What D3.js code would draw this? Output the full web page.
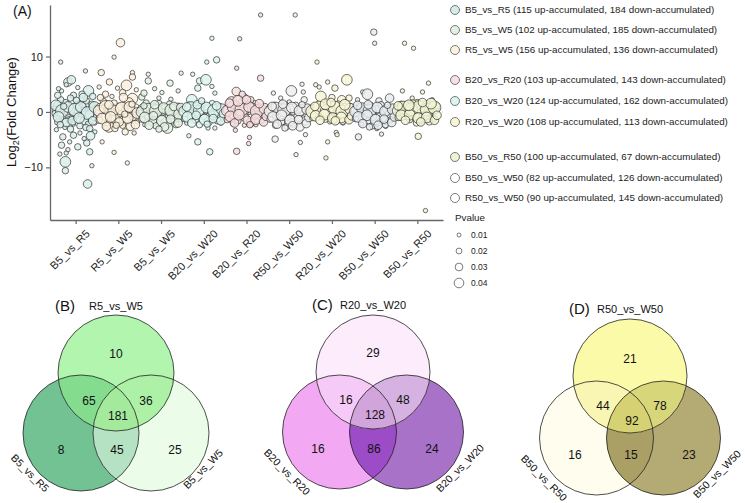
<!DOCTYPE html>
<html>
<head>
<meta charset="utf-8">
<script src="https://cdn.jsdelivr.net/npm/d3@7"></script>
<style>
  body { margin: 0; background: #fff; }
  svg { font-family: Arial, "Liberation Sans", sans-serif; }
</style>
</head>
<body>
<svg id="chart" width="745" height="503"></svg>
<script>
// comparison order on the x axis
var comparisons = ["B5_vs_R5", "R5_vs_W5", "B5_vs_W5", "B20_vs_W20", "B20_vs_R20",
                   "R50_vs_W50", "R20_vs_W20", "B50_vs_W50", "B50_vs_R50"];
var compColors = ["#d9eeea", "#fbf0dc", "#e3f1e3", "#dcf4ef", "#f7dede",
                  "#eeeeee", "#f7f6d6", "#e6ecee", "#f1f4d3"];
var yTicks = [-10, 0, 10];

// each point: [jitter within the column, log2 fold change, pvalue]
var ptsB5R5 = [[-0.35,9.0,0.01],[0.23,7.4,0.01],[-0.18,5.4,0.03],[-0.1,5.8,0.03],[-0.22,4.9,0.01],[0.3,3.8,0.04],[-0.33,3.8,0.01],[0.05,4.4,0.01],[-0.4,4.2,0.01],[0.15,3.2,0.02],[-0.05,3.0,0.02],[0.4,2.8,0.02],
  [-0.38,0.9,0.05],[0.26,0.7,0.05],[-0.45,0.3,0.03],[-0.25,1.5,0.03],[-0.1,0.5,0.04],[0.05,1.2,0.03],[0.15,-0.2,0.03],[0.38,0.4,0.03],[-0.3,-0.8,0.02],[-0.15,-1.4,0.02],[0.0,-0.6,0.02],[0.2,-1.6,0.03],[0.42,-1.0,0.02],[-0.42,-1.8,0.02],[-0.05,-2.2,0.01],[0.1,-2.5,0.02],[0.3,-2.2,0.02],[-0.25,-2.8,0.01],[0.45,-2.0,0.01],[-0.35,2.2,0.02],[0.25,2.0,0.02],[0.1,1.8,0.01],[-0.2,0.0,0.02],[0.32,-0.5,0.03],[-0.48,-0.3,0.02],[0.05,0.1,0.02],[-0.1,-1.0,0.01],[0.22,0.6,0.01],[-0.28,0.4,0.01],[0.38,1.4,0.02],[-0.12,2.5,0.02],
  [-0.46,1.2,0.04],[-0.32,0.2,0.05],[-0.18,0.9,0.04],[-0.02,0.4,0.05],[0.12,0.9,0.04],[0.28,-0.2,0.05],[0.44,0.9,0.04],[-0.4,-0.9,0.04],[-0.22,-1.9,0.03],[-0.08,-1.6,0.03],[0.08,-1.1,0.04],[0.24,-2.8,0.02],[0.4,-1.6,0.03],[-0.36,-2.3,0.02],[0.18,2.6,0.03],[-0.42,3.0,0.02],[0.33,-3.0,0.02],[-0.12,-3.1,0.02],[0.02,2.1,0.02],[-0.28,1.0,0.02],
  [-0.3,-4.5,0.02],[-0.33,-6.0,0.02],[-0.14,-5.4,0.01],[0.05,-6.3,0.02],[0.26,-5.6,0.02],[0.33,-7.2,0.02],[-0.37,-7.6,0.01],[-0.22,-7.4,0.01],[-0.24,-9.0,0.04],[-0.24,-10.6,0.02],[0.38,-9.7,0.01],[0.28,-13.0,0.03],[0.1,-3.8,0.01],[-0.05,-4.2,0.02],[0.2,-4.8,0.01],[0.45,-3.6,0.01],[-0.45,-3.2,0.01],[0.35,-4.3,0.03],[-0.18,-6.8,0.01]];
var ptsR5W5 = [[-0.4,7.1,0.02],[0.05,12.5,0.03],[-0.1,9.9,0.01],[-0.21,5.4,0.02],[0.19,4.8,0.04],[0.33,7.1,0.01],[0.33,6.3,0.02],[-0.02,4.3,0.01],[0.33,2.4,0.04],[-0.22,-2.7,0.04],[0.16,-3.6,0.02],[0.37,-3.8,0.01],[-0.38,-5.4,0.01],[-0.1,-7.3,0.01],[0.21,-9.2,0.01],[-0.3,3.2,0.02],[0.1,3.5,0.02],[-0.15,2.8,0.01],[0.42,4.0,0.01],[-0.45,4.5,0.01],
  [-0.42,0.6,0.04],[-0.2,0.2,0.03],[0.0,0.8,0.03],[0.2,0.3,0.04],[0.4,0.7,0.03],[-0.3,-0.8,0.03],[-0.05,-1.2,0.04],[0.15,-1.5,0.04],[0.35,-1.0,0.02],[-0.45,-1.5,0.02],[-0.1,1.6,0.02],[0.25,1.8,0.03],[-0.35,1.9,0.02],[0.05,-0.3,0.02],[0.3,-0.4,0.01],[-0.25,-2.0,0.02],[0.1,-2.4,0.02],[0.45,-1.8,0.01],[-0.15,0.0,0.01],[0.15,1.0,0.01],[-0.48,0.0,0.01],[0.48,0.2,0.01],[0.28,-2.6,0.03],[-0.08,-3.0,0.02],[-0.35,0.9,0.01],
  [-0.46,0.2,0.04],[-0.3,0.9,0.05],[-0.12,0.3,0.04],[0.08,0.6,0.05],[0.26,0.9,0.04],[0.44,-0.2,0.04],[-0.38,-1.2,0.04],[-0.18,-0.9,0.04],[0.02,-1.8,0.03],[0.22,-1.1,0.04],[0.4,-2.3,0.03],[-0.28,-2.6,0.03],[0.12,2.6,0.03],[-0.22,1.3,0.03],[0.32,1.4,0.02],[-0.05,-2.4,0.02],[0.15,-0.4,0.02],[-0.42,2.6,0.02]];
var ptsB5W5 = [[-0.3,6.8,0.01],[-0.3,5.6,0.02],[0.21,5.2,0.02],[0.02,3.5,0.01],[0.23,2.3,0.01],[-0.05,2.5,0.01],[-0.45,2.7,0.02],[0.47,7.0,0.01],[-0.4,3.4,0.02],[0.4,3.8,0.01],[-0.15,4.2,0.01],
  [-0.42,0.5,0.04],[-0.15,0.8,0.03],[0.1,0.4,0.04],[0.38,0.6,0.04],[-0.3,-0.6,0.03],[0.0,-0.9,0.03],[0.25,-0.5,0.03],[0.45,-1.2,0.02],[-0.45,-1.3,0.02],[-0.2,-1.8,0.03],[0.12,-2.0,0.04],[0.35,-2.3,0.02],[-0.05,1.5,0.02],[0.2,1.4,0.02],[-0.35,1.6,0.02],[0.05,0.0,0.02],[-0.25,0.1,0.01],[0.3,-0.1,0.01],[-0.1,-0.4,0.01],[0.48,0.1,0.02],[-0.48,0.0,0.01],[0.15,-2.9,0.04],[-0.12,-2.5,0.02],[-0.38,-2.3,0.01],[0.4,1.2,0.01],
  [-0.46,0.0,0.04],[-0.3,0.6,0.04],[-0.12,0.2,0.05],[0.06,0.7,0.04],[0.24,0.3,0.05],[0.42,-0.4,0.04],[-0.38,-1.0,0.04],[-0.18,-0.7,0.03],[0.02,-1.6,0.04],[0.22,-1.3,0.03],[0.4,-2.0,0.03],[-0.28,-2.4,0.03],[0.08,-2.7,0.03],[-0.15,1.3,0.03],[0.3,1.0,0.03],[-0.4,1.1,0.02],[0.46,0.8,0.03],[-0.05,-3.1,0.02]];
var ptsB20W20 = [[-0.26,6.8,0.01],[0.19,13.3,0.01],[0.07,9.0,0.01],[0.3,9.4,0.02],[-0.1,5.6,0.02],[0.05,5.8,0.04],[-0.14,4.3,0.02],[0.26,3.4,0.01],[0.19,4.6,0.01],[-0.28,2.2,0.04],[-0.35,-4.3,0.01],[-0.14,-5.4,0.02],[0.14,-7.2,0.02],[0.1,-2.9,0.01],[0.26,-2.9,0.01],
  [-0.42,0.5,0.03],[-0.15,0.8,0.04],[0.1,0.5,0.03],[0.35,0.6,0.04],[-0.3,-0.5,0.03],[0.0,-0.8,0.02],[0.22,-0.6,0.03],[0.45,-0.9,0.02],[-0.45,-1.2,0.02],[-0.2,-1.5,0.02],[0.1,-1.8,0.03],[0.32,-1.6,0.02],[-0.05,1.4,0.02],[0.2,1.5,0.02],[-0.35,1.2,0.02],[0.05,0.0,0.01],[-0.25,0.1,0.01],[0.3,-0.1,0.01],[0.48,0.2,0.02],[-0.1,-2.3,0.02],[0.4,-2.0,0.01],[-0.4,-2.0,0.01],
  [-0.46,0.1,0.04],[-0.3,0.7,0.05],[-0.12,0.2,0.04],[0.06,0.8,0.04],[0.24,0.2,0.05],[0.42,0.5,0.04],[-0.38,-0.9,0.04],[-0.18,-0.6,0.03],[0.02,-1.4,0.04],[0.22,-1.2,0.03],[0.4,-1.6,0.03],[-0.28,-2.0,0.03],[0.08,-2.2,0.02],[-0.15,1.3,0.03],[0.3,1.1,0.03],[-0.4,0.9,0.03],[0.46,-0.3,0.03],[-0.05,2.0,0.02]];
var ptsB20R20 = [[-0.16,13.2,0.01],[0.33,17.5,0.01],[-0.23,7.9,0.01],[0.33,6.1,0.02],[-0.24,3.7,0.03],[-0.35,1.8,0.04],[-0.05,2.5,0.03],[0.19,1.3,0.03],[-0.26,-3.3,0.01],[0.07,-4.6,0.01],[0.05,-5.7,0.01],[-0.23,-7.1,0.02],[-0.1,3.2,0.02],[0.1,2.2,0.02],
  [-0.42,0.4,0.04],[-0.18,0.7,0.04],[0.05,0.3,0.03],[0.3,0.5,0.04],[0.45,-0.3,0.02],[-0.3,-0.6,0.03],[-0.05,-0.9,0.03],[0.2,-0.8,0.02],[-0.45,-1.4,0.02],[-0.2,-1.6,0.02],[0.1,-1.9,0.03],[0.35,-1.5,0.02],[-0.1,1.6,0.03],[0.15,1.0,0.02],[-0.35,1.1,0.02],[0.0,0.0,0.01],[-0.25,-0.1,0.01],[0.25,-0.2,0.01],[0.4,0.9,0.01],[-0.05,-2.4,0.01],[0.22,-2.3,0.01],[-0.32,-2.2,0.01],
  [-0.46,0.2,0.04],[-0.3,0.9,0.05],[-0.12,0.4,0.05],[0.06,0.9,0.04],[0.24,0.1,0.05],[0.42,0.6,0.04],[-0.38,-0.8,0.04],[-0.18,-0.5,0.04],[0.02,-1.5,0.03],[0.22,-1.3,0.04],[0.4,-1.8,0.03],[-0.28,-2.0,0.03],[0.08,-2.3,0.02],[-0.2,2.0,0.04],[0.3,1.5,0.03],[-0.4,1.6,0.03],[0.46,-0.8,0.03],[0.0,2.2,0.03]];
var ptsR50W50 = [[0.14,17.5,0.01],[0.05,3.8,0.04],[0.3,5.0,0.01],[0.33,3.6,0.01],[-0.37,3.4,0.01],[0.0,1.8,0.01],[-0.33,-4.9,0.02],[0.26,-5.5,0.01],[0.16,-7.7,0.01],[0.38,-4.1,0.01],[0.35,2.2,0.02],[-0.2,2.5,0.01],
  [-0.42,0.5,0.04],[-0.2,0.8,0.03],[0.05,0.4,0.04],[0.28,0.6,0.03],[0.45,0.0,0.02],[-0.3,-0.5,0.03],[-0.05,-0.8,0.03],[0.2,-1.0,0.03],[-0.45,-1.3,0.02],[-0.18,-1.8,0.02],[0.1,-2.0,0.03],[0.38,-1.6,0.03],[-0.1,1.3,0.02],[0.15,1.2,0.02],[-0.35,1.2,0.02],[0.0,0.0,0.01],[-0.25,-0.1,0.01],[0.3,-0.3,0.01],[0.42,1.0,0.01],[-0.05,-2.6,0.02],[0.25,-2.7,0.03],[-0.32,-2.4,0.02],
  [-0.46,0.1,0.04],[-0.3,0.8,0.04],[-0.12,0.3,0.05],[0.06,0.8,0.04],[0.24,0.2,0.04],[0.42,0.5,0.04],[-0.38,-0.9,0.04],[-0.18,-0.6,0.04],[0.02,-1.5,0.04],[0.22,-1.4,0.03],[0.4,-2.1,0.03],[-0.28,-2.2,0.03],[0.08,-2.5,0.03],[-0.15,1.4,0.03],[0.3,1.3,0.02],[-0.4,1.0,0.03],[0.46,-1.0,0.03],[-0.1,-2.9,0.02]];
var ptsR20W20 = [[-0.35,9.0,0.01],[-0.38,4.9,0.01],[-0.3,4.5,0.01],[-0.1,5.4,0.01],[0.07,4.3,0.02],[0.35,5.8,0.04],[-0.26,2.8,0.04],[0.23,2.2,0.03],[0.1,-3.7,0.01],[0.12,-4.1,0.01],[-0.1,-5.4,0.01],[-0.14,-8.3,0.01],[0.26,-2.0,0.01],[0.0,2.6,0.02],[0.4,2.5,0.02],
  [-0.42,0.4,0.04],[-0.2,0.7,0.04],[0.05,0.3,0.04],[0.28,0.6,0.04],[0.45,0.1,0.03],[-0.3,-0.5,0.03],[-0.05,-0.7,0.03],[0.2,-0.6,0.03],[-0.45,-1.0,0.02],[-0.15,-1.3,0.02],[0.1,-1.4,0.03],[0.38,-1.2,0.02],[-0.1,1.3,0.03],[0.15,1.2,0.03],[-0.35,1.1,0.02],[0.0,0.0,0.02],[-0.25,-0.1,0.01],[0.3,-0.2,0.01],[0.42,1.0,0.02],[-0.05,-1.8,0.01],[0.25,-1.7,0.02],
  [-0.46,0.1,0.05],[-0.3,0.8,0.05],[-0.12,0.2,0.05],[0.06,0.8,0.05],[0.24,0.1,0.05],[0.42,0.6,0.04],[-0.38,-0.7,0.04],[-0.18,-0.5,0.04],[0.02,-1.1,0.04],[0.22,-1.0,0.04],[0.4,-1.4,0.03],[-0.28,-1.5,0.03],[0.08,-1.6,0.03],[-0.15,1.4,0.04],[0.3,1.3,0.04],[-0.4,1.0,0.03],[0.46,-0.7,0.03],[-0.02,1.7,0.03]];
var ptsB50W50 = [[-0.02,14.4,0.02],[0.0,12.4,0.01],[-0.28,3.6,0.01],[-0.17,3.2,0.04],[0.35,2.5,0.03],[-0.38,-4.5,0.02],[0.05,-3.0,0.01],[0.16,-4.0,0.01],[0.26,-2.6,0.01],[0.1,2.0,0.02],[-0.4,2.2,0.01],
  [-0.42,0.3,0.04],[-0.2,0.6,0.03],[0.05,0.4,0.03],[0.28,0.6,0.03],[0.45,0.0,0.02],[-0.3,-0.6,0.04],[-0.05,-0.8,0.03],[0.2,-1.0,0.03],[-0.45,-1.2,0.02],[-0.15,-1.6,0.02],[0.1,-1.9,0.02],[0.38,-1.4,0.02],[-0.1,1.2,0.02],[0.15,1.3,0.02],[-0.35,1.0,0.02],[0.0,0.0,0.01],[-0.25,-0.1,0.01],[0.3,-0.2,0.01],[0.42,0.9,0.01],[-0.05,-2.5,0.02],[0.25,-2.3,0.02],[-0.3,-2.2,0.01],
  [-0.46,0.1,0.04],[-0.3,0.7,0.04],[-0.12,0.2,0.05],[0.06,0.8,0.04],[0.24,0.1,0.04],[0.42,0.5,0.04],[-0.38,-0.9,0.04],[-0.18,-0.6,0.04],[0.02,-1.4,0.04],[0.22,-1.3,0.03],[0.4,-1.9,0.03],[-0.28,-2.1,0.03],[0.08,-2.4,0.03],[-0.15,1.3,0.03],[0.3,1.2,0.02],[-0.4,1.2,0.03],[0.46,-0.9,0.03],[-0.12,-2.7,0.02]];
var ptsB50R50 = [[-0.3,12.4,0.01],[-0.09,11.5,0.01],[0.26,5.2,0.01],[-0.35,3.8,0.01],[0.12,3.6,0.01],[-0.12,2.5,0.01],[0.35,2.2,0.01],[0.02,-4.4,0.02],[0.19,-17.8,0.01],
  [-0.28,0.9,0.04],[0.0,1.3,0.04],[0.3,0.2,0.04],[-0.42,0.3,0.03],[-0.12,0.2,0.04],[0.15,0.6,0.03],[0.42,0.5,0.03],[-0.3,-0.6,0.03],[-0.05,-0.8,0.03],[0.2,-0.7,0.03],[-0.45,-1.0,0.02],[-0.18,-1.4,0.02],[0.1,-1.5,0.02],[0.38,-1.2,0.02],[-0.1,1.6,0.02],[0.22,1.5,0.02],[-0.38,1.4,0.02],[0.05,0.0,0.01],[-0.22,-0.1,0.01],[0.32,-0.3,0.01],[0.45,1.1,0.02],[-0.02,-2.0,0.02],[0.28,-1.8,0.02],
  [-0.46,0.2,0.04],[-0.32,0.8,0.05],[-0.14,0.5,0.05],[0.04,0.9,0.05],[0.22,0.4,0.05],[0.4,0.8,0.05],[-0.38,-0.6,0.04],[-0.18,-0.5,0.04],[0.02,-1.1,0.04],[0.22,-1.0,0.04],[0.4,-1.5,0.03],[-0.28,-1.5,0.03],[0.08,-1.8,0.03],[-0.2,1.2,0.04],[0.32,1.5,0.04],[-0.45,1.1,0.03],[0.46,-0.6,0.03],[0.12,1.7,0.03]];
var pointSets = [ptsB5R5, ptsR5W5, ptsB5W5, ptsB20W20, ptsB20R20, ptsR50W50, ptsR20W20, ptsB50W50, ptsB50R50];

// legend entries
var legendNames = ["B5_vs_R5", "B5_vs_W5", "R5_vs_W5", "B20_vs_R20", "B20_vs_W20", "R20_vs_W20",
                   "B50_vs_R50", "B50_vs_W50", "R50_vs_W50"];
var legendUp = [115, 102, 156, 103, 124, 108, 100, 82, 90];
var legendDown = [184, 185, 136, 143, 162, 113, 67, 126, 145];
var legendColors = ["#d6ece9", "#e5f0e5", "#fbf3dd", "#f7dfe3", "#dcf3f0", "#f9f5d8", "#eef3d6", "#ffffff", "#ffffff"];
var pLegend = [0.01, 0.02, 0.03, 0.04];

// venn diagrams: sets are [left, top, right]; counts are
// [left only, top only, right only, left&top, left&right, top&right, all]
var vennBSets = ["B5_vs_R5", "R5_vs_W5", "B5_vs_W5"];
var vennBCounts = [8, 10, 25, 65, 45, 36, 181];
var vennBColors = ["#72c293", "#b2f5ae", "#ebfce9", "#84dc8f", "#b6e2c4", "#acf1a6", "#a3ea9c"];
var vennCSets = ["B20_vs_R20", "R20_vs_W20", "B20_vs_W20"];
var vennCCounts = [16, 29, 24, 16, 86, 48, 128];
var vennCColors = ["#f2a8f2", "#fcecfc", "#a872c8", "#f6caf6", "#9c4cc6", "#d6b2e2", "#d1a4dc"];
var vennDSets = ["B50_vs_R50", "R50_vs_W50", "B50_vs_W50"];
var vennDCounts = [16, 21, 23, 44, 15, 78, 92];
var vennDColors = ["#fefdee", "#fafaa8", "#b4aa74", "#f8f6b2", "#aaa066", "#d8d67a", "#d6d274"];

var svg = d3.select("#chart");

// ---------- panel A ----------
var x = d3.scalePoint().domain(comparisons).range([50, 443]).padding(0.6);
var step = x.step();
var y = d3.scaleLinear().domain([-19.5, 19.3]).range([220, 5]);
var r = d3.scaleLinear().domain([0.01, 0.05]).range([2.2, 6.4]);

var plot = svg.append("g");

plot.append("line")
    .attr("x1", 50).attr("x2", 443)
    .attr("y1", y(0)).attr("y2", y(0))
    .attr("stroke", "#c8c8c8").attr("stroke-dasharray", "4,3");

var allPts = [];
pointSets.forEach(function(set, i) {
    set.forEach(function(p) {
        allPts.push({ comp: comparisons[i], color: compColors[i], off: p[0], fc: p[1], p: p[2] });
    });
});

plot.selectAll("circle.pt")
    .data(allPts)
    .enter()
    .append("circle")
    .attr("class", "pt")
    .attr("cx", d => x(d.comp) + d.off * step)
    .attr("cy", d => y(d.fc))
    .attr("r", d => r(d.p))
    .attr("fill", d => d.color)
    .attr("fill-opacity", 0.85)
    .attr("stroke", "#222")
    .attr("stroke-width", 0.65);

var yAxis = svg.append("g")
    .attr("transform", "translate(50,0)")
    .call(d3.axisLeft(y).tickValues(yTicks).tickSize(4).tickSizeOuter(0).tickFormat(d => d === 0 ? "0" : (d < 0 ? "\u221210" : "10")));
var xAxis = svg.append("g")
    .attr("transform", "translate(0,220)")
    .call(d3.axisBottom(x).tickSize(4).tickSizeOuter(0));

[yAxis, xAxis].forEach(function(a) {
    a.select(".domain").attr("stroke", "#666").attr("stroke-width", 1.3);
    a.selectAll(".tick line").attr("stroke", "#666").attr("stroke-width", 1.2);
    a.selectAll("text").attr("fill", "#222").style("font-family", "Arial, 'Liberation Sans', sans-serif");
});
yAxis.selectAll("text").style("font-size", "11px");
xAxis.selectAll("text")
    .style("font-size", "11px")
    .attr("text-anchor", "end")
    .attr("transform", "translate(4,4) rotate(-45)")
    .attr("dy", "0.7em");

var yLab = svg.append("text")
    .attr("transform", "translate(16,112) rotate(-90)")
    .attr("text-anchor", "middle")
    .attr("font-size", 13)
    .attr("fill", "#111");
yLab.append("tspan").text("Log");
yLab.append("tspan").attr("font-size", 9).attr("dy", 3).text("2");
yLab.append("tspan").attr("dy", -3).text("(Fold Change)");

svg.append("text").attr("x", 13).attr("y", 16).attr("font-size", 14).attr("fill", "#111").text("(A)");

// legend
var legY = [10, 30, 50, 80, 101, 122, 157, 178, 198];
var leg = svg.append("g");
legendNames.forEach(function(n, i) {
    leg.append("circle")
        .attr("cx", 455).attr("cy", legY[i]).attr("r", 4.5)
        .attr("fill", legendColors[i]).attr("stroke", "#444").attr("stroke-width", 0.7);
    leg.append("text")
        .attr("x", 465).attr("y", legY[i]).attr("dy", "0.35em")
        .attr("font-size", 9.8).attr("fill", "#222")
        .text(n + " (" + legendUp[i] + " up-accumulated, " + legendDown[i] + (n === "R50_vs_W50" ? "  " : " ") + "down-accumulated)");
});
leg.append("text").attr("x", 455).attr("y", 218).attr("dy", "0.35em")
    .attr("font-size", 9.8).attr("fill", "#222").text("Pvalue");
pLegend.forEach(function(p, i) {
    var cy = 235 + i * 16;
    leg.append("circle")
        .attr("cx", 459).attr("cy", cy).attr("r", r(p) * 0.9)
        .attr("fill", "#fff").attr("stroke", "#444").attr("stroke-width", 0.7);
    leg.append("text")
        .attr("x", 471).attr("y", cy).attr("dy", "0.35em")
        .attr("font-size", 8.5).attr("fill", "#222").text(p.toFixed(2));
});

// ---------- venn panels ----------
function venn(id, tag, sets, counts, colors, cx, topY, botY, rad, dx) {
    var g = svg.append("g");
    var centers = [[cx - dx, botY], [cx, topY], [cx + dx, botY]];
    var defs = g.append("defs");
    ["L", "T", "R"].forEach(function(k, i) {
        defs.append("clipPath").attr("id", id + k)
            .append("circle").attr("cx", centers[i][0]).attr("cy", centers[i][1]).attr("r", rad);
    });
    function disc(parent, i, fill, clip) {
        var c = parent.append("circle")
            .attr("cx", centers[i][0]).attr("cy", centers[i][1]).attr("r", rad)
            .attr("fill", fill);
        if (clip) c.attr("clip-path", "url(#" + id + clip + ")");
        return c;
    }
    disc(g, 0, colors[0]);
    disc(g, 2, colors[2]);
    disc(g, 2, colors[4], "L");
    disc(g, 1, colors[1]);
    disc(g, 1, colors[3], "L");
    disc(g, 1, colors[5], "R");
    disc(g.append("g").attr("clip-path", "url(#" + id + "L)"), 1, colors[6], "R");
    centers.forEach(function(c) {
        g.append("circle").attr("cx", c[0]).attr("cy", c[1]).attr("r", rad)
            .attr("fill", "none").attr("stroke", "#222").attr("stroke-width", 0.8);
    });

    var gy = (topY + 2 * botY) / 3;
    var offs = [[-55, 37], [0, -59], [59, 37], [-27, -12], [1, 37], [30, -12], [2, 3]];
    counts.forEach(function(v, i) {
        g.append("text")
            .attr("x", cx + offs[i][0]).attr("y", gy + offs[i][1])
            .attr("dy", "0.35em").attr("text-anchor", "middle")
            .attr("font-size", 12).attr("fill", "#111").text(v);
    });

    g.append("text").attr("x", cx - 61).attr("y", topY - 62)
        .attr("font-size", 15).attr("fill", "#111").text(tag);
    g.append("text").attr("x", cx).attr("y", topY - 63).attr("text-anchor", "middle")
        .attr("font-size", 11).attr("fill", "#111").text(sets[1]);
    g.append("text")
        .attr("transform", "translate(" + (cx - 86) + "," + (botY + 40) + ") rotate(45)")
        .attr("text-anchor", "middle").attr("dy", "0.35em")
        .attr("font-size", 10.5).attr("fill", "#111").text(sets[0]);
    g.append("text")
        .attr("transform", "translate(" + (cx + 87) + "," + (botY + 36) + ") rotate(-45)")
        .attr("text-anchor", "middle").attr("dy", "0.35em")
        .attr("font-size", 10.5).attr("fill", "#111").text(sets[2]);
}

venn("vb", "(B)", vennBSets, vennBCounts, vennBColors, 116, 373, 433, 58, 35);
venn("vc", "(C)", vennCSets, vennCCounts, vennCColors, 373, 372, 432, 57, 33.5);
venn("vd", "(D)", vennDSets, vennDCounts, vennDColors, 630, 376, 438, 57, 33.5);
</script>
</body>
</html>
